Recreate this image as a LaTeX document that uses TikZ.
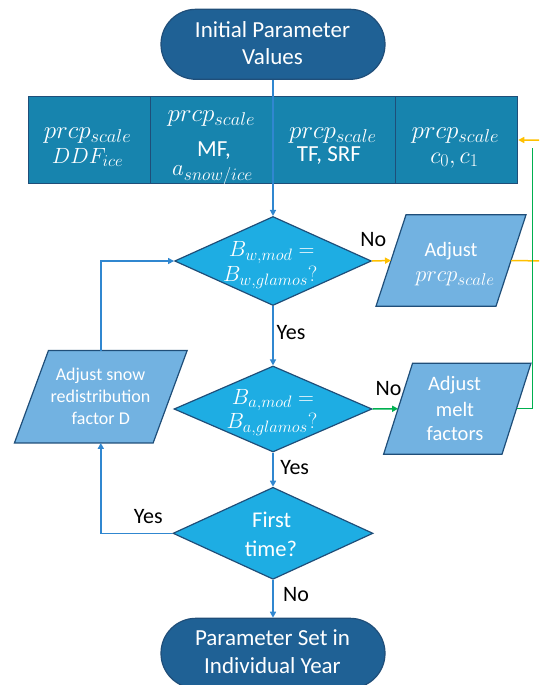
\RequirePackage{fix-cm}
\documentclass[tikz,border=0pt]{standalone}
\usepackage{fontspec}
\setmainfont{Carlito}
\usetikzlibrary{shapes.geometric,arrows.meta,calc}
\DeclareMathSizes{25}{25}{18.5}{13.5}
\DeclareMathSizes{24}{24}{18}{13}
\DeclareMathSizes{23}{23}{17.5}{12.5}
\DeclareMathSizes{22.5}{22.5}{17}{12}
\DeclareMathSizes{22}{22}{16.5}{12}
\definecolor{termfill}{HTML}{1F6195}
\definecolor{boxfill}{HTML}{1784AE}
\definecolor{diafill}{HTML}{1EADE3}
\definecolor{parfill}{HTML}{72B2E1}
\definecolor{bordc}{HTML}{1F4E79}
\definecolor{lineblue}{HTML}{3087D0}
\definecolor{orangeln}{HTML}{FFC000}
\definecolor{greenln}{HTML}{00B050}
\newcommand\pscl[1]{{\fontsize{#1}{#1}\selectfont$prcp_{scale}$}}
\newcommand\fsz[1]{\fontsize{#1}{#1}\selectfont}
\begin{document}
\begin{tikzpicture}[x=1pt,y=-1pt,
  term/.style={draw=bordc, line width=1.2pt, fill=termfill, rounded corners=34.9pt,
    minimum width=224pt, minimum height=70pt, inner sep=0pt},
  boxc/.style={draw=bordc, line width=1.2pt, fill=boxfill, minimum width=122.3pt,
    minimum height=86.6pt, inner sep=0pt},
  dia/.style={shape=diamond, draw=bordc, line width=1.2pt, fill=diafill, inner sep=0pt},
  pnode/.style={draw=none, inner sep=0pt, rectangle},
  pdraw/.style={draw=bordc, line width=1.2pt, fill=parfill},
  tl/.style={anchor=base, inner sep=0pt, text=white},
  lab/.style={text=black, inner sep=0pt, font=\fsz{22}},
  conn/.style={draw=lineblue, line width=1.5pt, -{Triangle[length=6pt,width=6pt]}},
  oconn/.style={draw=orangeln, line width=1.5pt, -{Triangle[length=6pt,width=6pt]}},
  gconn/.style={draw=greenln, line width=1.5pt, -{Triangle[length=6pt,width=6pt]}},
  gline/.style={draw=greenln, line width=1.5pt},
]
\useasboundingbox (0,0) rectangle (539,685);
\clip (0,0) rectangle (539,685);

% terminals
\node[term] (start) at (273,44.3) {};
\node[tl, font=\fsz{23}] (st1) at (272.5,37.3) {Initial Parameter};
\node[tl, font=\fsz{23}] (st2) at (272.5,65) {Values};
\node[term] (stop) at (273,653.3) {};
\node[tl, font=\fsz{23}] (sp1) at (272.5,645.7) {Parameter Set in};
\node[tl, font=\fsz{23}] (sp2) at (272.5,673.3) {Individual Year};

% parameter row
\node[boxc] (b1) at (89.5,140) {};
\node[boxc] (b2) at (212,140) {};
\node[boxc] (b3) at (334.5,140) {};
\node[boxc] (b4) at (456.5,140) {};
\node[tl] (b1a) at (87.5,138) {\pscl{25}};
\node[tl, font=\fsz{22}] (b1b) at (87.5,163) {$DDF_{ice}$};
\node[tl] (b2a) at (211.3,121.7) {\pscl{25}};
\node[tl, font=\fsz{23}] (b2b) at (214,156) {MF,};
\node[tl, font=\fsz{23}] (b2c) at (212.5,175) {$a_{snow/ice}$};
\node[tl] (b3a) at (332.8,138) {\pscl{25}};
\node[tl, font=\fsz{23}] (b3b) at (329,161.7) {TF, SRF};
\node[tl] (b4a) at (455.3,138) {\pscl{25}};
\node[tl, font=\fsz{24}] (b4b) at (454.5,163) {$c_0, c_1$};

% decisions
\node[dia, minimum width=196.7pt, minimum height=89pt] (d1) at (273,261) {};
\node[tl, font=\fsz{22}] (d1a) at (271.7,256.7) {$B_{w,mod}=$};
\node[tl, font=\fsz{22}] (d1b) at (270.3,281.7) {$B_{w,glamos}?$};
\node[dia, minimum width=198pt, minimum height=86pt] (d2) at (273,409) {};
\node[tl, font=\fsz{22}] (d2a) at (273,404) {$B_{a,mod}=$};
\node[tl, font=\fsz{22}] (d2b) at (272,428.3) {$B_{a,glamos}?$};
\node[dia, minimum width=200pt, minimum height=92pt] (d3) at (273,533.3) {};
\node[tl, font=\fsz{22.5}] (d3a) at (271.7,527.7) {First};
\node[tl, font=\fsz{22.5}] (d3b) at (271,556.7) {time?};

% parallelograms
\node[pnode, minimum width=119.6pt, minimum height=91pt] (pA) at (451,260.5) {};
\draw[pdraw] ([xshift=15pt]pA.north west) -- ([xshift=15pt]pA.north east)
  -- ([xshift=-15pt]pA.south east) -- ([xshift=-15pt]pA.south west) -- cycle;
\node[tl, font=\fsz{20.5}] (pA1) at (451,256) {Adjust};
\node[tl] (pA2) at (455,281.7) {\pscl{22.5}};

\node[pnode, minimum width=118pt, minimum height=90.7pt] (pB) at (457.3,408.7) {};
\draw[pdraw] ([xshift=14.5pt]pB.north west) -- ([xshift=14.5pt]pB.north east)
  -- ([xshift=-14.5pt]pB.south east) -- ([xshift=-14.5pt]pB.south west) -- cycle;
\node[tl, font=\fsz{20.5}] (pB1) at (454.5,390.7) {Adjust};
\node[tl, font=\fsz{20.5}] (pB2) at (455,416) {melt};
\node[tl, font=\fsz{20.5}] (pB3) at (455,440.7) {factors};

\node[pnode, minimum width=138.3pt, minimum height=92pt] (pC) at (100.8,396.7) {};
\draw[pdraw] ([xshift=17pt]pC.north west) -- ([xshift=17pt]pC.north east)
  -- ([xshift=-17pt]pC.south east) -- ([xshift=-17pt]pC.south west) -- cycle;
\node[tl, font=\fsz{18}] (pC1) at (100.5,380) {Adjust snow};
\node[tl, font=\fsz{18}] (pC2) at (100.5,402.3) {redistribution};
\node[tl, font=\fsz{18}] (pC3) at (100.8,424) {factor D};

% connectors
\draw[conn] (start.south) -- (d1.north);
\draw[conn] (d1.south) -- (d2.north);
\draw[conn] (d2.south) -- (d3.north);
\draw[conn] (d3.south) -- (stop.north);
\draw[oconn] (d1.east) -- (pA.west);
\draw[gconn] (d2.east) -- (pB.west);
\coordinate (oc) at (545,261);
\draw[oconn] (pA.east) -- (oc) |- (b4.east);
\coordinate (gt) at (532.7,148);
\draw[gline] (pB.east) -| (gt);
\draw[conn] (pC.north) |- (d1.west);
\draw[conn] (d3.west) -| (pC.south);

% labels
\node[lab] (l1) at (373.3,239.3) {No};
\node[lab] (l2) at (291,333) {Yes};
\node[lab] (l3) at (388.5,389) {No};
\node[lab] (l4) at (294.7,468) {Yes};
\node[lab] (l5) at (296,595) {No};
\node[lab] (l6) at (148.3,516.7) {Yes};
\end{tikzpicture}
\end{document}
